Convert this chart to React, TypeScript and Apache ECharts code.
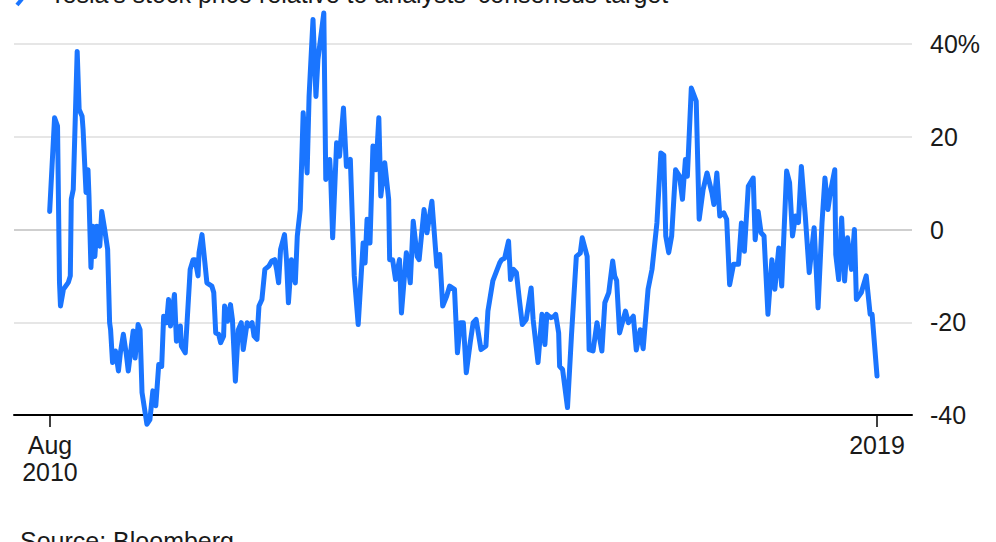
import React, { useEffect, useRef } from "react";
import * as echarts from "echarts";

// Decimal-year positions of the traced points (Aug 2010 -> early 2019)
const years = [
  2010.58, 2010.63, 2010.66, 2010.68, 2010.69, 2010.72, 2010.77, 2010.79, 2010.80, 2010.82,
  2010.86, 2010.88, 2010.91, 2010.92, 2010.95, 2010.97, 2010.98, 2011.00, 2011.02, 2011.04,
  2011.06, 2011.09, 2011.11, 2011.14, 2011.17, 2011.19, 2011.20, 2011.22, 2011.25, 2011.28,
  2011.30, 2011.33, 2011.36, 2011.38, 2011.43, 2011.45, 2011.48, 2011.50, 2011.52, 2011.57,
  2011.60, 2011.63, 2011.66, 2011.69, 2011.72, 2011.74, 2011.77, 2011.79, 2011.81, 2011.85,
  2011.87, 2011.91, 2011.92, 2011.96, 2012.01, 2012.04, 2012.06, 2012.09, 2012.10, 2012.13,
  2012.16, 2012.18, 2012.23, 2012.25, 2012.27, 2012.30, 2012.32, 2012.35, 2012.36, 2012.39,
  2012.42, 2012.44, 2012.47, 2012.50, 2012.53, 2012.55, 2012.59, 2012.61, 2012.64, 2012.66,
  2012.69, 2012.71, 2012.74, 2012.77, 2012.81, 2012.84, 2012.87, 2012.89, 2012.91, 2012.93,
  2012.97, 2012.99, 2013.01, 2013.04, 2013.06, 2013.08, 2013.10, 2013.13, 2013.16, 2013.20,
  2013.22, 2013.26, 2013.29, 2013.31, 2013.37, 2013.39, 2013.43, 2013.44, 2013.46, 2013.50,
  2013.53, 2013.57, 2013.60, 2013.64, 2013.68, 2013.72, 2013.77, 2013.79, 2013.81, 2013.84,
  2013.87, 2013.90, 2013.93, 2013.95, 2013.99, 2014.03, 2014.04, 2014.07, 2014.10, 2014.14,
  2014.16, 2014.21, 2014.25, 2014.28, 2014.32, 2014.34, 2014.39, 2014.42, 2014.47, 2014.52,
  2014.55, 2014.58, 2014.62, 2014.65, 2014.70, 2014.73, 2014.76, 2014.79, 2014.82, 2014.86,
  2014.89, 2014.92, 2014.97, 2015.02, 2015.04, 2015.09, 2015.16, 2015.18, 2015.21, 2015.25,
  2015.27, 2015.30, 2015.33, 2015.36, 2015.39, 2015.43, 2015.48, 2015.50, 2015.55, 2015.59,
  2015.62, 2015.64, 2015.68, 2015.71, 2015.73, 2015.76, 2015.77, 2015.80, 2015.85, 2015.89,
  2015.94, 2015.98, 2016.00, 2016.05, 2016.07, 2016.11, 2016.15, 2016.20, 2016.23, 2016.27,
  2016.31, 2016.33, 2016.35, 2016.38, 2016.44, 2016.47, 2016.52, 2016.55, 2016.59, 2016.62,
  2016.67, 2016.71, 2016.76, 2016.80, 2016.83, 2016.85, 2016.88, 2016.91, 2016.95, 2016.99,
  2017.02, 2017.05, 2017.07, 2017.11, 2017.16, 2017.19, 2017.23, 2017.27, 2017.32, 2017.34,
  2017.37, 2017.40, 2017.44, 2017.47, 2017.50, 2017.54, 2017.59, 2017.62, 2017.65, 2017.69,
  2017.74, 2017.76, 2017.79, 2017.82, 2017.85, 2017.89, 2017.93, 2017.96, 2018.00, 2018.03,
  2018.08, 2018.11, 2018.14, 2018.17, 2018.20, 2018.23, 2018.27, 2018.31, 2018.36, 2018.40,
  2018.44, 2018.47, 2018.50, 2018.53, 2018.57, 2018.58, 2018.61, 2018.64, 2018.67, 2018.70,
  2018.74, 2018.77, 2018.79, 2018.84, 2018.89, 2018.93, 2018.95, 2019.00,
];

// Stock price relative to analysts' consensus target, %
const values = [
  3.9, 24.1, 22.3, -11.4, -16.5, -12.9, -11.4, -10, 6.5, 8.6,
  38.4, 25.9, 24.4, 21.6, 8, 12.9, 7.2, -8.2, 0.7, -5.8,
  0.7, -3.6, 3.9, 0, -4.3, -20.1, -21.6, -28.7, -26.2, -30.5,
  -26.5, -22.6, -26.9, -30.5, -21.9, -27.7, -20.5, -21.6, -35.2, -42,
  -41, -34.8, -38, -29.1, -29.5, -18.7, -20.1, -15.1, -20.8, -14,
  -24.1, -20.8, -25.1, -26.6, -8.6, -6.5, -6.5, -10, -5, -1.1,
  -7.2, -11.5, -12.2, -13.6, -22.3, -22.6, -24.4, -23, -16.5, -19.8,
  -16.2, -19.4, -32.7, -21.6, -20.1, -25.9, -20.1, -20.8, -20.1, -23,
  -23.7, -16.5, -15.1, -8.6, -7.9, -6.8, -6.5, -8.6, -11.5, -4.3,
  -1.1, -6.5, -15.8, -6.5, -10, -11.5, -1.4, 4.3, 25.2, 12.2,
  28.7, 45.3, 28.7, 36.6, 46.7, 10.8, 15.1, 11.5, -1.8, 18.7,
  15.8, 26.2, 13.6, 15.1, -10, -20.5, -2.9, -7.2, 2.2, -2.9,
  18, 12.9, 24.1, 7.2, 14.4, 6.5, -6.5, -6.5, -10.8, -6.5,
  -18, -5, -11.5, 1.8, -5.8, -6.5, 4.3, -0.7, 6.1, -7.9,
  -5.4, -16.5, -14.4, -12.2, -12.9, -26.6, -20.1, -20.1, -30.9, -24.4,
  -20.1, -19.4, -25.9, -25.1, -17.6, -11.1, -7.2, -6.5, -6.2, -2.5,
  -10.8, -8.6, -9.3, -15.1, -20.5, -19.4, -12.6, -19.4, -28.7, -18.3,
  -24.8, -18.3, -19, -18.8, -18.3, -22.3, -29.5, -30.2, -38.4, -23,
  -5.8, -5.1, -1.8, -5.8, -25.9, -26.2, -20.1, -26.2, -15.8, -13.6,
  -6.8, -10, -11, -22.3, -17.6, -20.1, -18.7, -26, -21.6, -25.7,
  -12.9, -8.6, 1.4, 16.5, 16, -1.4, -5, -1.4, 12.9, 11.5,
  6.5, 15.1, 11.5, 30.5, 27.7, 2.2, 8.6, 12.2, 7.9, 5.4,
  12.2, 2.9, 3.6, 2.2, -11.9, -7.5, -7.5, 1.4, -4.7, 9.3,
  11.1, -2.2, 3.9, -0.7, -1.4, -18.3, -6.5, -12.9, -4, -12.2,
  12.6, 10.1, -1.4, 2.9, 1.5, 13.6, 2.9, -9.3, 0.4, -16.9,
  1.4, 11.1, 4.3, 8.6, 12.9, -5.4, -10.8, 2.5, -11.1, -1.8,
  -8.6, 0, -15.1, -13.6, -10, -18.3, -18.3, -31.6,
];

const xTickValues = [2010.583, 2019];
const xTickLabels = ["Aug\n2010", "2019"];
const yTicks = [-40, -20, 0, 20, 40];

const titleText = "Tesla's stock price relative to analysts' consensus target";
const sourceText = "Source: Bloomberg";

const FONT = '"Liberation Sans", Arial, Helvetica, sans-serif';
const LINE_COLOR = "#1a75ff";

export default function App() {
  const ref = useRef<HTMLDivElement>(null);

  useEffect(() => {
    if (!ref.current) return;
    const chart = echarts.init(ref.current, undefined, { renderer: "svg" });
    const data = years.map((y, i) => [y, values[i]]);
    chart.setOption({
      animation: false,
      backgroundColor: "#ffffff",
      textStyle: { fontFamily: FONT },
      grid: { left: 14, right: 84, top: 44, bottom: 127, containLabel: false },
      xAxis: {
        type: "value",
        min: 2010.217,
        max: 2019.356,
        splitLine: { show: false },
        axisLine: { show: true, onZero: false, lineStyle: { color: "#000", width: 2 } },
        axisTick: {
          show: true,
          customValues: xTickValues,
          length: 12,
          lineStyle: { color: "#000", width: 1.5 },
        },
        axisLabel: {
          show: true,
          customValues: xTickValues,
          formatter: (v: number) => {
            const i = xTickValues.findIndex((t) => Math.abs(t - v) < 0.01);
            return i >= 0 ? xTickLabels[i] : "";
          },
          color: "#1a1a1a",
          fontSize: 25,
          lineHeight: 27,
          margin: 16,
          fontFamily: FONT,
        },
      },
      yAxis: {
        type: "value",
        position: "right",
        min: -40,
        max: 40,
        interval: 20,
        axisLine: { show: false },
        axisTick: { show: false },
        splitLine: {
          show: true,
          lineStyle: {
            color: ["#000000", "#e6e6e6", "#cfcfcf", "#e6e6e6", "#e6e6e6"],
            width: 2,
          },
        },
        axisLabel: {
          color: "#1a1a1a",
          fontSize: 25,
          margin: 18,
          fontFamily: FONT,
          formatter: (v: number) => (v === yTicks[yTicks.length - 1] ? v + "%" : String(v)),
        },
      },
      graphic: [
        {
          type: "line",
          shape: { x1: 17, y1: 5, x2: 22, y2: -1 },
          style: { stroke: LINE_COLOR, lineWidth: 4 },
        },
        {
          type: "text",
          left: 50,
          top: -19,
          style: { text: titleText, font: `25px ${FONT}`, fill: "#1a1a1a" },
        },
        {
          type: "text",
          left: 20,
          top: 528,
          style: { text: sourceText, font: `25px ${FONT}`, fill: "#1a1a1a" },
        },
      ],
      series: [
        {
          type: "line",
          data,
          symbol: "none",
          clip: false,
          lineStyle: { color: LINE_COLOR, width: 5, join: "round", cap: "round" },
          z: 3,
        },
      ],
    });
    return () => chart.dispose();
  }, []);

  return (
    <div
      ref={ref}
      style={{ position: "fixed", left: 0, top: 0, width: 996, height: 542, background: "#fff" }}
    />
  );
}
